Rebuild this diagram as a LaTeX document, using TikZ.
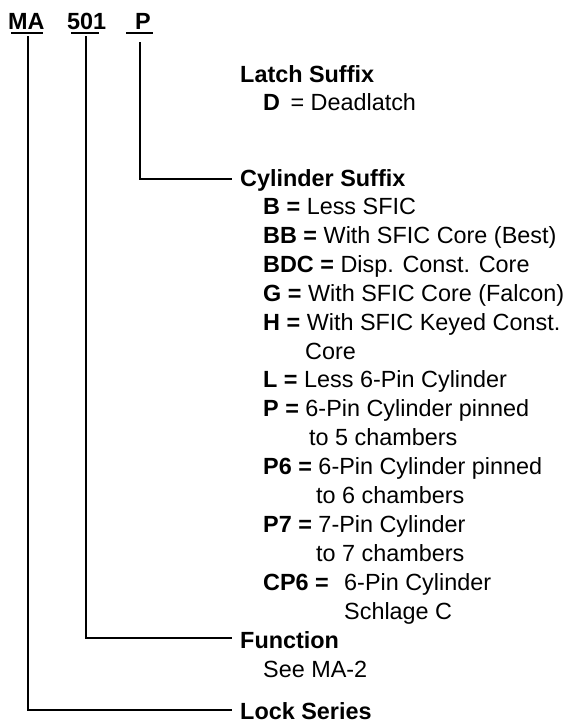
\documentclass[tikz,border=0pt]{standalone}
\usepackage{fontspec}
\setmainfont{Liberation Sans}
\begin{document}
\begin{tikzpicture}[x=1pt,y=-1pt,
  txt/.style={inner sep=0pt, anchor=base west, font=\fontsize{23.4}{28.9}\selectfont},
  hd/.style={txt, font=\fontsize{23.4}{28.9}\selectfont\bfseries},
  conn/.style={line width=2pt, line cap=butt},
  uline/.style={line width=1.6pt}]
\useasboundingbox (0,0) rectangle (570,723);
% header codes
\node[hd] (ma) at (8,29) {MA};
\node[hd] (n501) at (67,29) {501};
\node[hd] (p) at (135,29) {P};
% underline coordinates
\coordinate (maL) at (11,33); \coordinate (maR) at (43,33);
\coordinate (nL) at (71,33); \coordinate (nR) at (99,33);
\coordinate (pL) at (126,33); \coordinate (pR) at (153,33);
\draw[uline] (maL) -- (maR);
\draw[uline] (nL) -- (nR);
\draw[uline] (pL) -- (pR);
% connector start/end points
\coordinate (maS) at (28,36);
\coordinate (nS) at (86,36);
\coordinate (pS) at (140,42);
\coordinate (cylE) at (232,179);
\coordinate (funE) at (232,638);
\coordinate (lockE) at (232,710);
\draw[conn] (pS) |- (cylE);
\draw[conn] (nS) |- (funE);
\draw[conn] (maS) |- (lockE);
% Latch suffix
\node[hd] (latch) at (240,82) {Latch Suffix};
\node[txt] (d) at (263,110) {\textbf{D}\, = Deadlatch};
% Cylinder suffix
\node[hd] (cyl) at (240,186) {Cylinder Suffix};
\node[txt] (b) at (263,214.5) {\textbf{B =} Less SFIC};
\node[txt] (bb) at (263,243.4) {\textbf{BB =} With SFIC Core (Best)};
\node[txt] (bdc) at (263,272.3) {\textbf{BDC =} Disp. Const. Core};
\node[txt] (g) at (263,301.2) {\textbf{G =} With SFIC Core (Falcon)};
\node[txt] (h) at (263,330.1) {\textbf{H =} With SFIC Keyed Const.};
\node[txt] (h2) at (305,359) {Core};
\node[txt] (l) at (263,387.9) {\textbf{L =} Less 6-Pin Cylinder};
\node[txt] (pp) at (263,416.8) {\textbf{P =} 6-Pin Cylinder pinned};
\node[txt] (pp2) at (309,445.7) {to 5 chambers};
\node[txt] (p6) at (263,474.6) {\textbf{P6 =} 6-Pin Cylinder pinned};
\node[txt] (p62) at (316,503.5) {to 6 chambers};
\node[txt] (p7) at (263,532.4) {\textbf{P7 =} 7-Pin Cylinder};
\node[txt] (p72) at (316,561.3) {to 7 chambers};
\node[txt] (cp6) at (263,590.2) {\textbf{CP6 =}};
\node[txt] (cp6d) at (344,590.2) {6-Pin Cylinder};
\node[txt] (cp62) at (344,619.1) {Schlage C};
% Function
\node[hd] (fun) at (240,648.5) {Function};
\node[txt] (see) at (263,677) {See MA-2};
% Lock series
\node[hd] (lock) at (240,719.5) {Lock Series};
\end{tikzpicture}
\end{document}
